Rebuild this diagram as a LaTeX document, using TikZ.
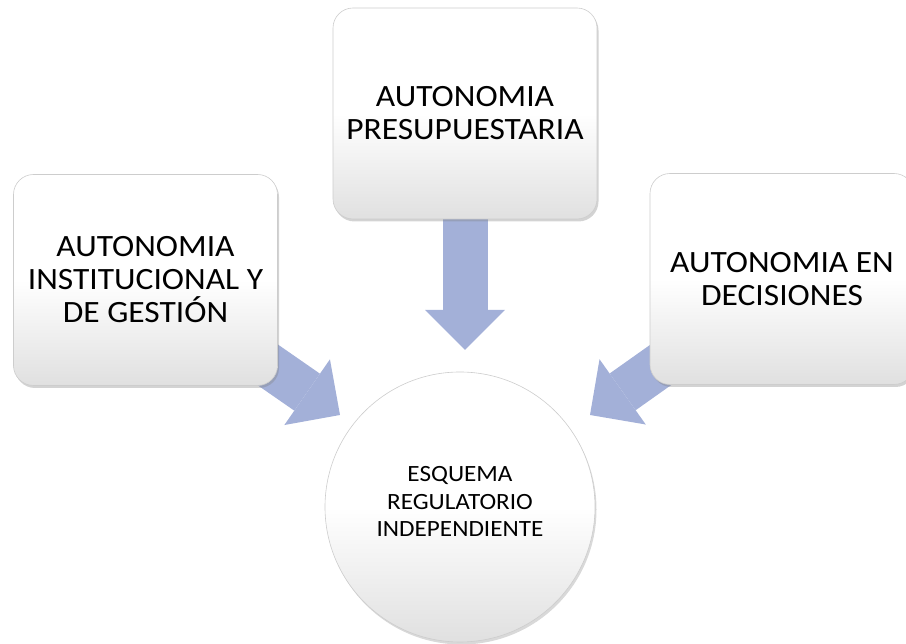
\documentclass[tikz,border=0pt]{standalone}
\usepackage{fontspec}
\setmainfont{Carlito}[FakeStretch=1.08]
\usetikzlibrary{arrows.meta,shadows,backgrounds}
\definecolor{arrowfill}{RGB}{163,176,216}
\definecolor{boxline}{RGB}{205,205,205}
\definecolor{boxbottom}{RGB}{224,224,224}
\begin{document}
\begin{tikzpicture}[x=1pt,y=1pt,
  boxnode/.style={rectangle, rounded corners=20pt, minimum width=264pt,
    minimum height=211pt, top color=white, bottom color=boxbottom,
    middle color=white, draw=boxline, line width=0.6pt, align=center,
    inner sep=0pt, font=\fontsize{31}{33}\selectfont,
    drop shadow={shadow xshift=1.5pt, shadow yshift=-2.5pt, opacity=0.35}},
  circnode/.style={circle, minimum size=270pt, top color=white,
    bottom color=boxbottom, middle color=white, draw=boxline, line width=0.6pt,
    inner sep=0pt,
    drop shadow={shadow xshift=1.5pt, shadow yshift=-2.5pt, opacity=0.3}},
  circtext/.style={align=center, inner sep=0pt, font=\fontsize{23.3}{27.5}\selectfont},
  blockarrow/.style={line width=45pt, draw=arrowfill,
    -{Triangle[width=80pt,length=40pt,line width=0pt]}}]
\useasboundingbox (0,0) rectangle (906,644);
\node[boxnode] (top) at (465,530.5) {AUTONOMIA\\PRESUPUESTARIA};
\node[boxnode] (left) at (145.5,364) {AUTONOMIA\\INSTITUCIONAL Y\\DE GESTIÓN};
\node[boxnode] (right) at (782,365) {AUTONOMIA EN\\DECISIONES};
\node[circnode] (center) at (460,137) {};
\node[circtext] (ctext) at (460,142.3) {ESQUEMA\\REGULATORIO\\INDEPENDIENTE};
\coordinate (tipT) at (465,294);
\coordinate (tipL) at (340,229);
\coordinate (tipR) at (590,229);
\begin{scope}[on background layer]
  \draw[blockarrow] (top.center) -- (tipT);
  \draw[blockarrow] (left.center) -- (tipL);
  \draw[blockarrow] (right.center) -- (tipR);
\end{scope}
\end{tikzpicture}
\end{document}
